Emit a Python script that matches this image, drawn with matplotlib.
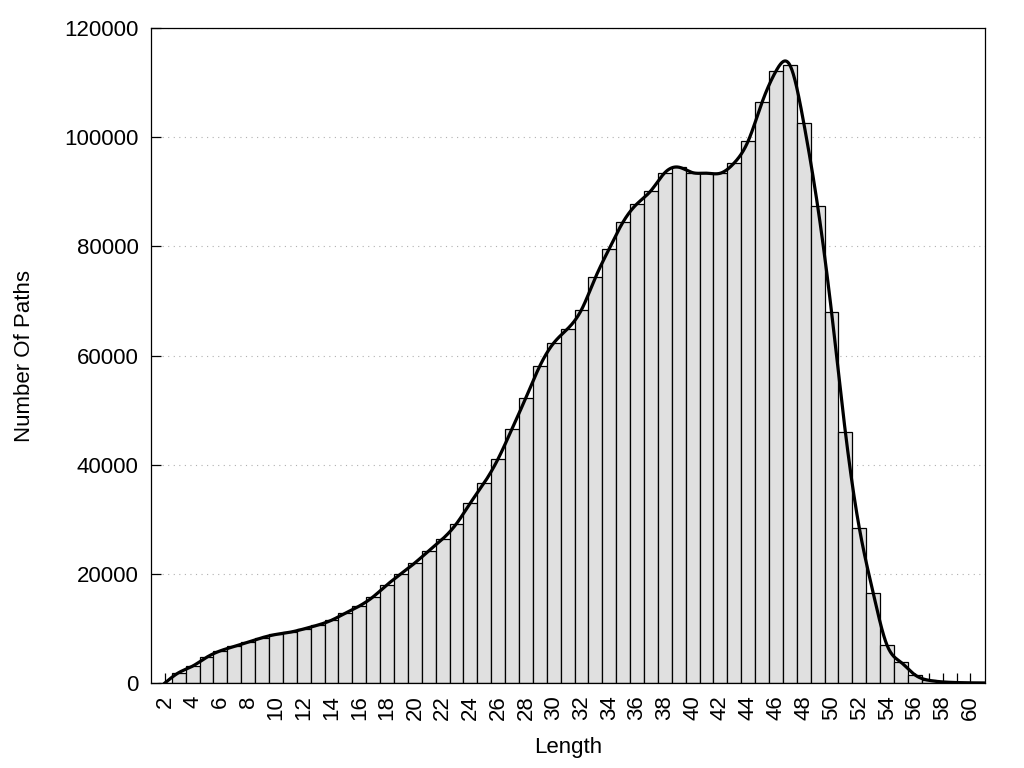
import numpy as np
import matplotlib
matplotlib.use('Agg')
import matplotlib.pyplot as plt

# path length counts
lengths = list(range(2, 62))
counts = [0, 1900, 3100, 4700, 5900, 6700, 7500, 8300, 8900, 9300,
          9900, 10600, 11500, 12800, 14100, 15800, 18000, 20000, 22000, 24200,
          26400, 29200, 33000, 36700, 41100, 46600, 52300, 58100, 62300, 64900,
          68400, 74300, 79600, 84500, 87800, 90200, 93500, 94500, 93500, 93400,
          93400, 95300, 99300, 106400, 112100, 113200, 102600, 87400, 68000, 45900,
          28400, 16500, 6900, 3800, 1500, 500, 200, 80, 30, 10]
y_ticks = [0, 20000, 40000, 60000, 80000, 100000, 120000]


def natural_spline(x, y, xs):
    # cubic spline through the points, like gnuplot "smooth csplines"
    x = np.asarray(x, float)
    y = np.asarray(y, float)
    n = len(x)
    h = np.diff(x)
    A = np.zeros((n, n))
    r = np.zeros(n)
    A[0, 0] = 1
    A[-1, -1] = 1
    for i in range(1, n - 1):
        A[i, i - 1] = h[i - 1]
        A[i, i] = 2 * (h[i - 1] + h[i])
        A[i, i + 1] = h[i]
        r[i] = 3 * ((y[i + 1] - y[i]) / h[i] - (y[i] - y[i - 1]) / h[i - 1])
    c = np.linalg.solve(A, r)
    b = (y[1:] - y[:-1]) / h - h * (2 * c[:-1] + c[1:]) / 3
    d = (c[1:] - c[:-1]) / (3 * h)
    idx = np.clip(np.searchsorted(x, xs) - 1, 0, n - 2)
    dx = xs - x[idx]
    return y[idx] + b[idx] * dx + c[idx] * dx ** 2 + d[idx] * dx ** 3


plt.rcParams['font.family'] = ['Liberation Sans', 'DejaVu Sans']

fig = plt.figure(figsize=(10.24, 7.68), dpi=100)
ax = fig.add_axes([151 / 1024, 1 - 683 / 768, 834 / 1024, 655 / 768])

ax.bar(lengths, counts, width=1.0, color='#e0e0e0', edgecolor='black',
       linewidth=0.9, zorder=2)

xs = np.linspace(lengths[0], lengths[-1], 2000)
ax.plot(xs, natural_spline(lengths, counts, xs), color='black', lw=2.3, zorder=3)

ax.set_xlim(1, 61.05)
ax.set_ylim(0, 120000)

ax.set_yticks(y_ticks)
ax.set_yticklabels([str(v) for v in y_ticks])
ax.set_xticks(range(2, 61))
ax.set_xticklabels([str(v) if v % 2 == 0 else '' for v in range(2, 61)], rotation=90)

ax.tick_params(axis='both', direction='in', length=7.5, width=0.9,
               labelsize=16, pad=9, top=False, right=False)
ax.grid(axis='y', linestyle=(0, (1, 4)), color='#b0b0b0', linewidth=0.8, zorder=0)
ax.set_axisbelow(True)

for s in ax.spines.values():
    s.set_linewidth(0.9)
    s.set_zorder(4)

ax.set_xlabel('Length', fontsize=16)
ax.set_ylabel('Number Of Paths', fontsize=16)
ax.xaxis.set_label_coords((568 - 151) / 834, (683 - 748) / 655)
ax.yaxis.set_label_coords((25 - 151) / 834, 0.5)
ax.xaxis.label.set_va('center')
ax.yaxis.label.set_va('center')

fig.savefig('out.png', dpi=100)
